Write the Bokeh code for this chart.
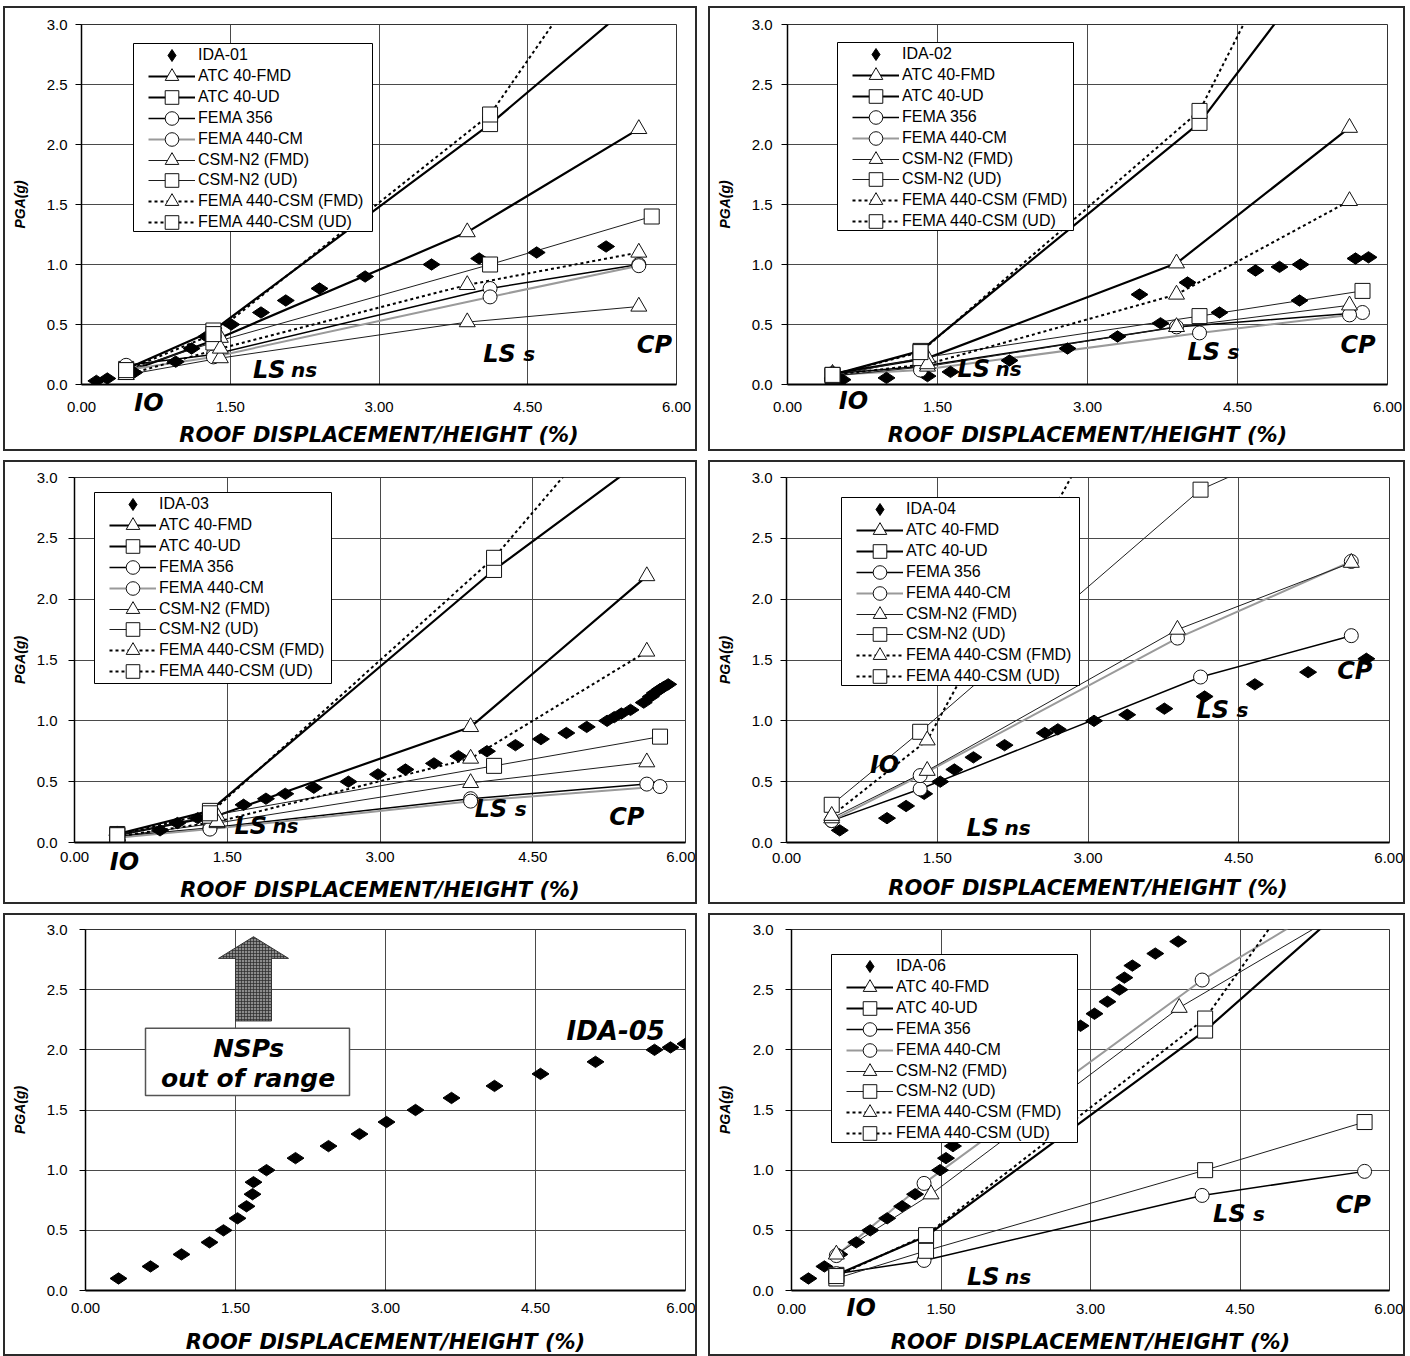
import numpy as np
from bokeh.plotting import figure
from bokeh.models import (Range1d, FixedTicker, NumeralTickFormatter, Legend, LegendItem,
                          Label, BoxAnnotation, Spacer, LinearAxis, CustomJSTickFormatter)
from bokeh.layouts import row, column
from bokeh.embed import file_html
from bokeh.resources import INLINE

NAN = float("nan")

X_TICKS = [0.0, 1.5, 3.0, 4.5, 6.0]
Y_TICKS = [0.0, 0.5, 1.0, 1.5, 2.0, 2.5, 3.0]
X_LABEL = "ROOF DISPLACEMENT/HEIGHT (%)"
Y_LABEL = "PGA(g)"
NSP_NAMES = ["ATC 40-FMD", "ATC 40-UD", "FEMA 356", "FEMA 440-CM",
             "CSM-N2 (FMD)", "CSM-N2 (UD)", "FEMA 440-CSM (FMD)", "FEMA 440-CSM (UD)"]

# ---------------- Panel 1 : IDA-01 ----------------
IDA01_X = [0.15, 0.26, 0.53, 0.95, 1.11, 1.26, 1.51, 1.81, 2.06, 2.40, 2.86, 3.53, 4.01, 4.59, 5.29]
IDA01_Y = [0.03, 0.05, 0.10, 0.19, 0.30, 0.40, 0.50, 0.60, 0.70, 0.80, 0.90, 1.00, 1.05, 1.10, 1.15]
P1_FMD_X = [0.45, 1.40, 3.89, 5.62]
P1_UD_X = [0.45, 1.33, 4.12, 5.75]
P1_F356_X = [0.45, 1.33, 4.12, 5.62]
P1_CM_X = [0.45, 1.33, 4.12, 5.62]
P1_ATC40_FMD = [0.10, 0.39, 1.27, 2.13]
P1_ATC40_UD = [0.13, 0.45, 2.17, 3.31]
P1_FEMA356 = [0.16, 0.25, 0.80, 1.00]
P1_FEMA440_CM = [0.12, 0.23, 0.73, 0.99]
P1_CSMN2_FMD = [0.08, 0.22, 0.52, 0.65]
P1_CSMN2_UD = [0.12, 0.35, 1.00, 1.40]
P1_F440CSM_FMD = [0.08, 0.30, 0.83, 1.10]
P1_F440CSM_UD = [0.12, 0.42, 2.25, 4.19]

# ---------------- Panel 2 : IDA-02 ----------------
IDA02_X = [0.55, 0.99, 1.40, 1.63, 2.22, 2.80, 3.30, 3.52, 3.73, 4.00, 4.32, 4.68, 4.92, 5.13, 5.12, 5.68, 5.81]
IDA02_Y = [0.04, 0.055, 0.07, 0.105, 0.20, 0.30, 0.40, 0.75, 0.51, 0.85, 0.60, 0.95, 0.98, 1.00, 0.70, 1.05, 1.06]
P2_FMD_X = [0.45, 1.40, 3.89, 5.62]
P2_UD_X = [0.45, 1.33, 4.12, 5.75]
P2_F356_X = [0.45, 1.33, 3.89, 5.75]
P2_CM_X = [0.45, 1.33, 4.12, 5.62]
P2_ATC40_FMD = [0.09, 0.22, 1.01, 2.14]
P2_ATC40_UD = [0.08, 0.28, 2.18, 3.97]
P2_FEMA356 = [0.09, 0.15, 0.48, 0.60]
P2_FEMA440_CM = [0.08, 0.12, 0.43, 0.58]
P2_CSMN2_FMD = [0.07, 0.15, 0.48, 0.66]
P2_CSMN2_UD = [0.07, 0.22, 0.57, 0.78]
P2_F440CSM_FMD = [0.08, 0.17, 0.75, 1.53]
P2_F440CSM_UD = [0.08, 0.27, 2.28, 4.95]

# ---------------- Panel 3 : IDA-03 ----------------
IDA03_X = [0.42, 0.84, 1.01, 1.21, 1.66, 1.88, 2.07, 2.35, 2.69, 2.98, 3.25, 3.53, 3.77, 4.05,
           4.33, 4.58, 4.83, 5.03, 5.23, 5.30, 5.37, 5.46, 5.59, 5.66, 5.70, 5.75, 5.79, 5.83]
IDA03_Y = [0.06, 0.10, 0.16, 0.20, 0.31, 0.36, 0.40, 0.45, 0.50, 0.56, 0.60, 0.65, 0.71, 0.75,
           0.80, 0.85, 0.90, 0.95, 1.00, 1.03, 1.06, 1.09, 1.15, 1.20, 1.23, 1.26, 1.28, 1.30]
P3_FMD_X = [0.42, 1.40, 3.89, 5.62]
P3_UD_X = [0.42, 1.33, 4.12, 5.75]
P3_F356_X = [0.42, 1.33, 3.89, 5.62]
P3_CM_X = [0.42, 1.33, 3.89, 5.75]
P3_ATC40_FMD = [0.06, 0.22, 0.95, 2.19]
P3_ATC40_UD = [0.07, 0.26, 2.24, 3.25]
P3_FEMA356 = [0.05, 0.12, 0.36, 0.48]
P3_FEMA440_CM = [0.04, 0.11, 0.34, 0.46]
P3_CSMN2_FMD = [0.05, 0.16, 0.49, 0.66]
P3_CSMN2_UD = [0.06, 0.22, 0.63, 0.87]
P3_F440CSM_FMD = [0.05, 0.17, 0.69, 1.57]
P3_F440CSM_UD = [0.06, 0.24, 2.34, 3.94]

# ---------------- Panel 4 : IDA-04 ----------------
IDA04_X = [0.53, 1.00, 1.19, 1.37, 1.53, 1.67, 1.86, 2.17, 2.57, 2.70, 3.06, 3.39, 3.76, 4.16, 4.66, 5.19, 5.77]
IDA04_Y = [0.10, 0.20, 0.30, 0.40, 0.50, 0.60, 0.70, 0.80, 0.90, 0.93, 1.00, 1.05, 1.10, 1.20, 1.30, 1.40, 1.51]
P4_FMD_X = [0.45, 1.40, 3.89, 5.62]
P4_UD_X = [0.45, 1.33, 4.12, 5.75]
P4_F356_X = [0.45, 1.33, 4.12, 5.62]
P4_CM_X = [0.45, 1.33, 3.89, 5.62]
P4_ATC40_FMD = [NAN, NAN, NAN, NAN]          # out of range
P4_ATC40_UD = [NAN, NAN, NAN, NAN]           # out of range
P4_FEMA356 = [0.18, 0.44, 1.36, 1.70]
P4_FEMA440_CM = [0.18, 0.55, 1.68, 2.31]
P4_CSMN2_FMD = [0.20, 0.59, 1.75, 2.30]
P4_CSMN2_UD = [0.31, 0.91, 2.90, 3.50]
P4_F440CSM_FMD = [0.22, 0.84, 4.60, NAN]
P4_F440CSM_UD = [NAN, NAN, NAN, NAN]         # out of range

# ---------------- Panel 5 : IDA-05 ----------------
IDA05_X = [0.33, 0.65, 0.96, 1.24, 1.38, 1.52, 1.61, 1.67, 1.68, 1.81, 2.10, 2.43, 2.74, 3.01,
           3.30, 3.66, 4.09, 4.55, 5.10, 5.69, 5.85, 6.00]
IDA05_Y = [0.10, 0.20, 0.30, 0.40, 0.50, 0.60, 0.70, 0.80, 0.90, 1.00, 1.10, 1.20, 1.30, 1.40,
           1.50, 1.60, 1.70, 1.80, 1.90, 2.00, 2.02, 2.05]

# ---------------- Panel 6 : IDA-06 ----------------
IDA06_X = [0.17, 0.33, 0.48, 0.65, 0.79, 0.96, 1.11, 1.24, 1.49, 1.55, 1.62,
           2.90, 3.04, 3.17, 3.29, 3.34, 3.42, 3.65, 3.88]
IDA06_Y = [0.10, 0.20, 0.30, 0.40, 0.50, 0.60, 0.70, 0.80, 1.00, 1.10, 1.20,
           2.20, 2.30, 2.40, 2.50, 2.60, 2.70, 2.80, 2.90]
P6_FMD_X = [0.45, 1.40, 3.89, 5.62]
P6_UD_X = [0.45, 1.35, 4.15, 5.75]
P6_F356_X = [0.45, 1.33, 4.12, 5.75]
P6_CM_X = [0.45, 1.33, 4.12, 5.62]
P6_ATC40_FMD = [NAN, NAN, NAN, NAN]          # not visible
P6_ATC40_UD = [0.13, 0.45, 2.16, 3.33]
P6_FEMA356 = [0.14, 0.25, 0.79, 0.99]
P6_FEMA440_CM = [0.29, 0.89, 2.58, 3.33]
P6_CSMN2_FMD = [0.30, 0.80, 2.35, 3.19]
P6_CSMN2_UD = [0.10, 0.33, 1.00, 1.40]
P6_F440CSM_FMD = [NAN, NAN, NAN, NAN]        # not visible
P6_F440CSM_UD = [0.12, 0.46, 2.26, 4.12]

# ---------------- styles ----------------
NSP_STYLE = {
    "ATC 40-FMD": dict(marker="triangle", size=16, xkey="FMD", color="black", width=2.2, dash="solid"),
    "ATC 40-UD": dict(marker="square", size=15, xkey="UD", color="black", width=2.2, dash="solid"),
    "FEMA 356": dict(marker="circle", size=14, xkey="F356", color="black", width=1.5, dash="solid"),
    "FEMA 440-CM": dict(marker="circle", size=14, xkey="CM", color="#9a9a9a", width=2.0, dash="solid"),
    "CSM-N2 (FMD)": dict(marker="triangle", size=16, xkey="FMD", color="#1e1e1e", width=1.0, dash="solid"),
    "CSM-N2 (UD)": dict(marker="square", size=15, xkey="UD", color="#1e1e1e", width=1.0, dash="solid"),
    "FEMA 440-CSM (FMD)": dict(marker="triangle", size=16, xkey="FMD", color="black", width=2.0, dash="3 3"),
    "FEMA 440-CSM (UD)": dict(marker="square", size=15, xkey="UD", color="black", width=2.0, dash="3 3"),
}

BIG = dict(text_font="DejaVu Sans", text_font_style="bold italic", text_color="black",
           text_baseline="alphabetic", y_offset=7)

ROW_PITCH = 20.9      # legend row pitch (px)
ROW_FIRST = 12        # first legend row centre below legend box top (px)
IO_H = 28             # assumed height of the 24px "IO" label box


def frame_size(L):
    fw = L["w"] - L["mbl"] - L["mbr"]
    fh = L["h"] - L["mbt"] - L["mbb"]
    return fw, fh


def base_figure(L):
    p = figure(width=L["w"], height=L["h"], x_range=Range1d(0, 6), y_range=Range1d(0, 3),
               output_backend="svg", toolbar_location=None,
               min_border_left=L["mbl"], min_border_right=L["mbr"],
               min_border_top=L["mbt"], min_border_bottom=L["mbb"])
    p.styles = {"border": "2px solid #2a2a2a"}
    p.background_fill_color = "white"
    p.border_fill_color = "white"
    p.outline_line_color = "#333333"
    p.outline_line_width = 1
    p.grid.grid_line_color = "#4a4a4a"
    p.grid.grid_line_width = 1
    xa = p.xaxis[0]
    ya = p.yaxis[0]
    xa.ticker = FixedTicker(ticks=X_TICKS)
    ya.ticker = FixedTicker(ticks=Y_TICKS)
    xa.formatter = NumeralTickFormatter(format="0.00")
    ya.formatter = NumeralTickFormatter(format="0.0")
    for ax in (xa, ya):
        ax.minor_tick_line_color = None
        ax.major_tick_in = 0
        ax.major_tick_line_color = "black"
        ax.axis_line_color = "black"
        ax.major_label_text_font = "Liberation Sans"
        ax.major_label_text_font_size = "15px"
        ax.major_label_text_color = "black"
        ax.axis_label_text_color = "black"
        ax.axis_label_text_font_style = "bold italic"
    xa.major_tick_out = 0
    ya.major_tick_out = 6
    xa.axis_line_width = 2
    ya.axis_line_width = 1.5
    xa.axis_label = X_LABEL
    xa.axis_label_text_font = "DejaVu Sans"
    xa.axis_label_text_font_size = "21px"
    ya.axis_label = Y_LABEL
    ya.axis_label_text_font = "Liberation Sans"
    ya.axis_label_text_font_size = "14px"
    xa.major_label_standoff = L["tl"]
    xa.axis_label_standoff = L["xts"]
    ya.major_label_standoff = L["yls"]
    ya.axis_label_standoff = L["yts"]
    return p


def add_io_axis(p, L, io_x, io_top):
    """'IO' label below the frame, drawn as the tick label of an extra x axis."""
    main = p.xaxis[0]
    io_ax = LinearAxis(ticker=FixedTicker(ticks=[io_x]),
                       formatter=CustomJSTickFormatter(code="return 'IO';"))
    io_ax.major_tick_out = 0
    io_ax.major_tick_in = 0
    io_ax.major_tick_line_color = None
    io_ax.minor_tick_line_color = None
    io_ax.axis_line_color = "black"
    io_ax.axis_line_width = 2
    io_ax.major_label_standoff = io_top
    io_ax.major_label_text_font = "DejaVu Sans"
    io_ax.major_label_text_font_style = "bold italic"
    io_ax.major_label_text_font_size = "24px"
    io_ax.major_label_text_color = "black"
    main.axis_line_color = None
    main.major_label_standoff = L["tl"] - (io_top + IO_H)
    p.below = [io_ax, main]


def add_level_labels(p, L, pos):
    if "IO" in pos:
        p.add_layout(Label(x=pos["IO"][0], y=pos["IO"][1], text="IO", text_font_size="24px", **BIG))
    else:
        add_io_axis(p, L, *pos["IO_below"])
    p.add_layout(Label(x=pos["LSns"][0], y=pos["LSns"][1], text="LS", text_font_size="24px", **BIG))
    p.add_layout(Label(x=pos["LSns"][0], y=pos["LSns"][1], x_offset=38, text="ns",
                       text_font_size="20px", **BIG))
    p.add_layout(Label(x=pos["LSs"][0], y=pos["LSs"][1], text="LS", text_font_size="24px", **BIG))
    p.add_layout(Label(x=pos["LSs"][0], y=pos["LSs"][1], x_offset=40, text="s",
                       text_font_size="20px", **BIG))
    p.add_layout(Label(x=pos["CP"][0], y=pos["CP"][1], text="CP", text_font_size="24px", **BIG))


def nsp_panel(L, ida_name, ida_x, ida_y, xs, ys, box, label_pos):
    p = base_figure(L)
    fw, fh = frame_size(L)
    line_r, mark_r = {}, {}
    for name in NSP_NAMES:
        st = NSP_STYLE[name]
        line_r[name] = p.line(xs[st["xkey"]], ys[name], line_color=st["color"],
                              line_width=st["width"], line_dash=st["dash"])
    ida_r = p.scatter(ida_x, ida_y, marker="diamond", size=17, angle=np.pi / 2,
                      fill_color="black", line_color="black")
    for name in NSP_NAMES:
        st = NSP_STYLE[name]
        mark_r[name] = p.scatter(xs[st["xkey"]], ys[name], marker=st["marker"], size=st["size"],
                                 fill_color="white", line_color="#111111", line_width=1)
    # legend frame (box given in pixels relative to the plot frame's top-left)
    bl, bt, bw, bh = box
    p.add_layout(BoxAnnotation(left=bl / fw * 6, right=(bl + bw) / fw * 6,
                               top=3 - bt / fh * 3, bottom=3 - (bt + bh) / fh * 3,
                               fill_color="white", fill_alpha=1.0,
                               line_color="black", line_width=1, line_alpha=1.0))
    entries = [(ida_name, [ida_r], 30)] + [(n, [line_r[n], mark_r[n]], 34) for n in NSP_NAMES]
    for i, (lab, rends, gh) in enumerate(entries):
        centre = bt + ROW_FIRST + ROW_PITCH * i
        leg = Legend(items=[LegendItem(label=lab, renderers=rends)],
                     location=(bl + 15, fh - centre - gh / 2), orientation="vertical",
                     glyph_width=47, glyph_height=gh, label_height=20,
                     padding=0, margin=0, label_standoff=3, spacing=0,
                     label_text_font="Liberation Sans", label_text_font_size="16px",
                     label_text_color="black", border_line_color=None,
                     background_fill_alpha=0.0)
        p.add_layout(leg)
    add_level_labels(p, L, label_pos)
    return p


def series_dict(fmd_x, ud_x, f356_x, cm_x):
    return {"FMD": fmd_x, "UD": ud_x, "F356": f356_x, "CM": cm_x}


def values_dict(a_fmd, a_ud, f356, cm, n_fmd, n_ud, c_fmd, c_ud):
    return dict(zip(NSP_NAMES, [np.array(v, dtype=float) for v in
                                (a_fmd, a_ud, f356, cm, n_fmd, n_ud, c_fmd, c_ud)]))


# layout of each panel (pixels); frames of a row share top/bottom borders
L1 = dict(w=694, h=445, mbl=76, mbr=23, mbt=16, mbb=69, tl=14, xts=8, yls=8, yts=16)
L2 = dict(w=697, h=445, mbl=77, mbr=20, mbt=16, mbb=69, tl=14, xts=8, yls=9, yts=16)
L3 = dict(w=694, h=444, mbl=69, mbr=14, mbt=15, mbb=64, tl=6, xts=13, yls=11, yts=6)
L4 = dict(w=697, h=444, mbl=76, mbr=18, mbt=15, mbb=64, tl=10, xts=10, yls=8, yts=16)
L5 = dict(w=694, h=443, mbl=80, mbr=14, mbt=14, mbb=68, tl=12, xts=14, yls=12, yts=16)
L6 = dict(w=697, h=443, mbl=81, mbr=18, mbt=14, mbb=68, tl=10, xts=13, yls=12, yts=17)

p1 = nsp_panel(L1, "IDA-01", IDA01_X, IDA01_Y,
               series_dict(P1_FMD_X, P1_UD_X, P1_F356_X, P1_CM_X),
               values_dict(P1_ATC40_FMD, P1_ATC40_UD, P1_FEMA356, P1_FEMA440_CM,
                           P1_CSMN2_FMD, P1_CSMN2_UD, P1_F440CSM_FMD, P1_F440CSM_UD),
               (52, 19, 239, 188),
               {"IO_below": (0.68, 4), "LSns": (1.73, 0.06), "LSs": (4.05, 0.20), "CP": (5.60, 0.275)})

p2 = nsp_panel(L2, "IDA-02", IDA02_X, IDA02_Y,
               series_dict(P2_FMD_X, P2_UD_X, P2_F356_X, P2_CM_X),
               values_dict(P2_ATC40_FMD, P2_ATC40_UD, P2_FEMA356, P2_FEMA440_CM,
                           P2_CSMN2_FMD, P2_CSMN2_UD, P2_F440CSM_FMD, P2_F440CSM_UD),
               (50, 18, 236, 188),
               {"IO_below": (0.66, 2), "LSns": (1.70, 0.067), "LSs": (4.00, 0.21), "CP": (5.53, 0.275)})

p3 = nsp_panel(L3, "IDA-03", IDA03_X, IDA03_Y,
               series_dict(P3_FMD_X, P3_UD_X, P3_F356_X, P3_CM_X),
               values_dict(P3_ATC40_FMD, P3_ATC40_UD, P3_FEMA356, P3_FEMA440_CM,
                           P3_CSMN2_FMD, P3_CSMN2_UD, P3_F440CSM_FMD, P3_F440CSM_UD),
               (20, 15, 237, 191),
               {"IO_below": (0.49, 5), "LSns": (1.57, 0.08), "LSs": (3.93, 0.22), "CP": (5.25, 0.155)})

p4 = nsp_panel(L4, "IDA-04", IDA04_X, IDA04_Y,
               series_dict(P4_FMD_X, P4_UD_X, P4_F356_X, P4_CM_X),
               values_dict(P4_ATC40_FMD, P4_ATC40_UD, P4_FEMA356, P4_FEMA440_CM,
                           P4_CSMN2_FMD, P4_CSMN2_UD, P4_F440CSM_FMD, P4_F440CSM_UD),
               (55, 20, 238, 188),
               {"IO": (0.83, 0.58), "LSns": (1.79, 0.06), "LSs": (4.08, 1.03), "CP": (5.48, 1.35)})

# Panel 5: IDA only, with annotation arrow + box
p5 = base_figure(L5)
ARROW_CX, ARROW_TIP, ARROW_NECK, ARROW_TAIL = 1.68, 2.94, 2.76, 2.24
HEAD_HALF, SHAFT_HALF = 0.35, 0.18
p5.patch([ARROW_CX - SHAFT_HALF, ARROW_CX - SHAFT_HALF, ARROW_CX - HEAD_HALF, ARROW_CX,
          ARROW_CX + HEAD_HALF, ARROW_CX + SHAFT_HALF, ARROW_CX + SHAFT_HALF],
         [ARROW_TAIL, ARROW_NECK, ARROW_NECK, ARROW_TIP, ARROW_NECK, ARROW_NECK, ARROW_TAIL],
         fill_color="#8c8c8c", line_color="#333333", line_width=1,
         hatch_pattern="+", hatch_color="#2a2a2a", hatch_scale=3, hatch_weight=0.7)
p5.add_layout(BoxAnnotation(left=0.60, right=2.64, bottom=1.62, top=2.18,
                            fill_color="white", fill_alpha=1.0,
                            line_color="#555555", line_width=1.5, line_alpha=1.0))
p5.add_layout(Label(x=1.63, y=1.955, text="NSPs", text_align="center", text_font_size="25px", **BIG))
p5.add_layout(Label(x=1.625, y=1.70, text="out of range", text_align="center",
                    text_font_size="25px", **BIG))
p5.scatter(IDA05_X, IDA05_Y, marker="diamond", size=17, angle=np.pi / 2,
           fill_color="black", line_color="black")
p5.add_layout(Label(x=4.81, y=2.10, text="IDA-05", text_font_size="26px", **BIG))

p6 = nsp_panel(L6, "IDA-06", IDA06_X, IDA06_Y,
               series_dict(P6_FMD_X, P6_UD_X, P6_F356_X, P6_CM_X),
               values_dict(P6_ATC40_FMD, P6_ATC40_UD, P6_FEMA356, P6_FEMA440_CM,
                           P6_CSMN2_FMD, P6_CSMN2_UD, P6_F440CSM_FMD, P6_F440CSM_UD),
               (40, 25, 246, 188),
               {"IO_below": (0.70, 3), "LSns": (1.76, 0.05), "LSs": (4.23, 0.58), "CP": (5.46, 0.65)})

layout = column(
    Spacer(height=6),
    row(Spacer(width=3), p1, Spacer(width=11), p2),
    Spacer(height=9),
    row(Spacer(width=3), p3, Spacer(width=11), p4),
    Spacer(height=9),
    row(Spacer(width=3), p5, Spacer(width=11), p6),
)

open("out.html", "w").write(file_html(layout, INLINE, title="IDA vs NSP"))
